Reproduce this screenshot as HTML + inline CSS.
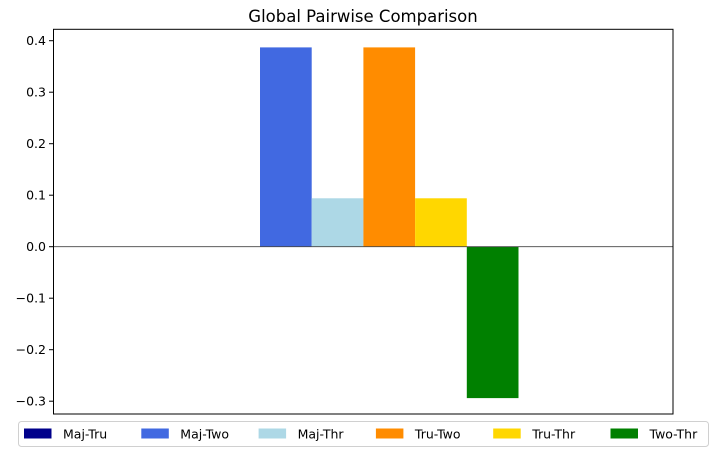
<!DOCTYPE html>
<html><head><meta charset="utf-8"><style>
body{margin:0;background:#fff;}
svg text{font-family:"DejaVu Sans","Liberation Sans",sans-serif;}
</style></head><body>
<svg id="chart" width="718" height="456" xmlns="http://www.w3.org/2000/svg">
<rect x="0" y="0" width="718" height="456" fill="#fff"/>
<text x="363" y="22" text-anchor="middle" font-size="16.5" fill="#000">Global Pairwise Comparison</text>
<g id="bars"></g>
<g id="yaxis"></g>
<line x1="53.5" y1="246.7" x2="673" y2="246.7" stroke="#444" stroke-width="0.9"/>
<rect x="53.5" y="29.3" width="619.5" height="384.7" fill="none" stroke="#000" stroke-width="1"/>
<rect x="18.5" y="421.5" width="690" height="25" rx="3" fill="#fff" stroke="#d0d0d0"/>
<g id="legend"></g>
</svg>
<script>
const categories = ["Maj-Tru","Maj-Two","Maj-Thr","Tru-Two","Tru-Thr","Two-Thr"];
const values = [0, 0.387, 0.094, 0.387, 0.094, -0.294];
const colors = ["#00008b","#4169e1","#add8e6","#ff8c00","#ffd700","#008000"];
const yTicks = [0.4,0.3,0.2,0.1,0.0,-0.1,-0.2,-0.3];
const yTickLabels = ["0.4","0.3","0.2","0.1","0.0","\u22120.1","\u22120.2","\u22120.3"];
const NS="http://www.w3.org/2000/svg";
const y0=246.7, pxPer=515;
function yScale(v){return y0 - v*pxPer;}
const barW=51.7, xStart=208.3;
function xScale(i){return xStart + i*barW;}
const bars=document.getElementById('bars');
values.forEach((v,i)=>{
  const r=document.createElementNS(NS,'rect');
  r.setAttribute('x',xScale(i));
  r.setAttribute('width',barW);
  r.setAttribute('y',Math.min(yScale(v),y0));
  r.setAttribute('height',Math.abs(yScale(v)-y0));
  r.setAttribute('fill',colors[i]);
  
  
  bars.appendChild(r);
});
const ya=document.getElementById('yaxis');
yTicks.forEach((t,i)=>{
  const y=yScale(t);
  const l=document.createElementNS(NS,'line');
  l.setAttribute('x1',49);l.setAttribute('x2',53.5);
  l.setAttribute('y1',y);l.setAttribute('y2',y);
  l.setAttribute('stroke','#000');
  
  
  ya.appendChild(l);
  const tx=document.createElementNS(NS,'text');
  tx.setAttribute('x',46);tx.setAttribute('y',y+4.5);
  tx.setAttribute('text-anchor','end');tx.setAttribute('font-size','12.5');
  tx.textContent=yTickLabels[i];
  
  
  ya.appendChild(tx);
});
const lg=document.getElementById('legend');
categories.forEach((c,i)=>{
  const x=24+i*117.3;
  const r=document.createElementNS(NS,'rect');
  r.setAttribute('x',x);r.setAttribute('y',428.5);
  r.setAttribute('width',27.5);r.setAttribute('height',10);
  r.setAttribute('fill',colors[i]);
  
  
  lg.appendChild(r);
  const t=document.createElementNS(NS,'text');
  t.setAttribute('x',x+39);t.setAttribute('y',438.5);
  t.setAttribute('font-size','12.5');
  t.textContent=c;
  
  
  lg.appendChild(t);
});
</script>
</body></html>
